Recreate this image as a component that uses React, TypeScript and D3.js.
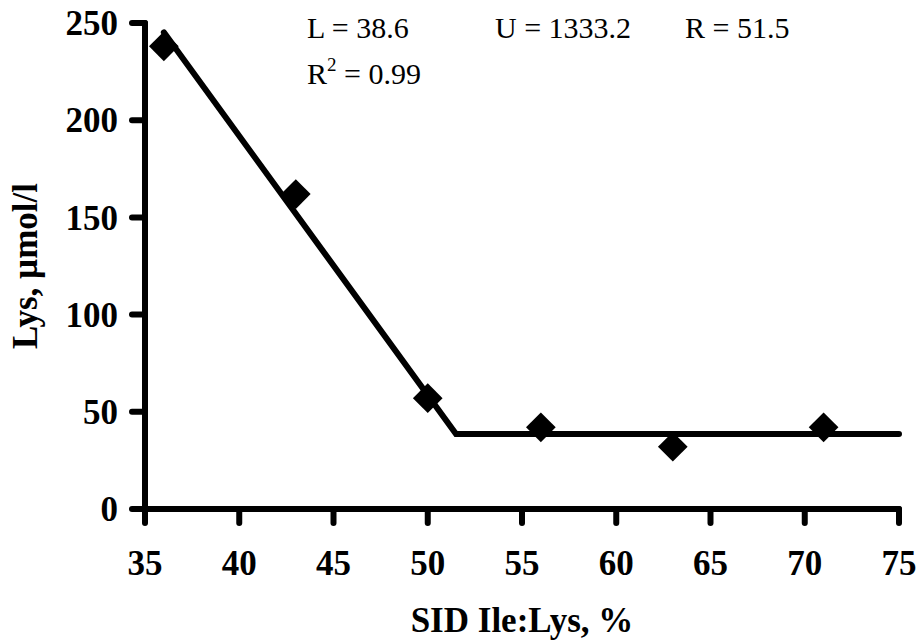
import React from "react";
import * as d3 from "d3";

const ratioX = [36, 43, 50, 56, 63, 71];
const lysY = [238, 162, 57, 42, 32, 42];
const fitX = [36, 51.5, 75];
const fitY = [245.2, 38.6, 38.6];
const xTicks = [35, 40, 45, 50, 55, 60, 65, 70, 75];
const yTicks = [0, 50, 100, 150, 200, 250];
const annotations = ["L = 38.6", "U = 1333.2", "R = 51.5"];
const r2Text = "0.99";

export default function App() {
  const W = 919, H = 642;
  const x = d3.scaleLinear().domain([35, 75]).range([145, 899]);
  const y = d3.scaleLinear().domain([0, 250]).range([509, 23]);
  const line = d3.line<number>().x((_, i) => x(fitX[i])).y((d) => y(d));
  const diamond = d3.symbol().type(d3.symbolSquare).size(440)();
  const font = "'Liberation Serif', 'Times New Roman', serif";
  const sw = 6;
  const annX = [307, 495, 685];
  return (
    <svg width={W} height={H} style={{ position: "absolute", left: 0, top: 0, background: "#fff" }} fontFamily={font}>
      <path d={line(fitY) || ""} fill="none" stroke="#000" strokeWidth={sw} strokeLinejoin="miter" strokeLinecap="round" />
      <line x1={x(35)} x2={x(75)} y1={y(0)} y2={y(0)} stroke="#000" strokeWidth={sw} strokeLinecap="round" />
      <line x1={x(35)} x2={x(35)} y1={y(0)} y2={y(250)} stroke="#000" strokeWidth={sw} strokeLinecap="round" />
      {yTicks.map((t) => (
        <g key={"y" + t}>
          <line x1={x(35) - 13} x2={x(35)} y1={y(t)} y2={y(t)} stroke="#000" strokeWidth={sw} strokeLinecap="round" />
          <text x={118} y={y(t)} dy="0.35em" textAnchor="end" fontWeight="bold" fontSize={35}>{t}</text>
        </g>
      ))}
      {xTicks.map((t) => (
        <g key={"x" + t}>
          <line x1={x(t)} x2={x(t)} y1={y(0)} y2={y(0) + 14} stroke="#000" strokeWidth={sw} strokeLinecap="round" />
          <text x={x(t)} y={575} textAnchor="middle" fontWeight="bold" fontSize={35}>{t}</text>
        </g>
      ))}
      {ratioX.map((v, i) => (
        <path key={"p" + i} d={diamond || ""} transform={`translate(${x(v)},${y(lysY[i])}) rotate(45)`} fill="#000" />
      ))}
      <text x={(x(35) + x(75)) / 2} y={632} textAnchor="middle" fontWeight="bold" fontSize={35}>SID Ile:Lys, %</text>
      <text transform={`translate(37,${(y(0) + y(250)) / 2}) rotate(-90)`} textAnchor="middle" fontWeight="bold" fontSize={35}>Lys, µmol/l</text>
      {annotations.map((a, i) => (
        <text key={"a" + i} x={annX[i]} y={38} fontSize={30}>{a}</text>
      ))}
      <text x={307} y={84} fontSize={30}>
        R<tspan dy={-13} fontSize={19}>2</tspan><tspan dy={13}>{" = " + r2Text}</tspan>
      </text>
    </svg>
  );
}
